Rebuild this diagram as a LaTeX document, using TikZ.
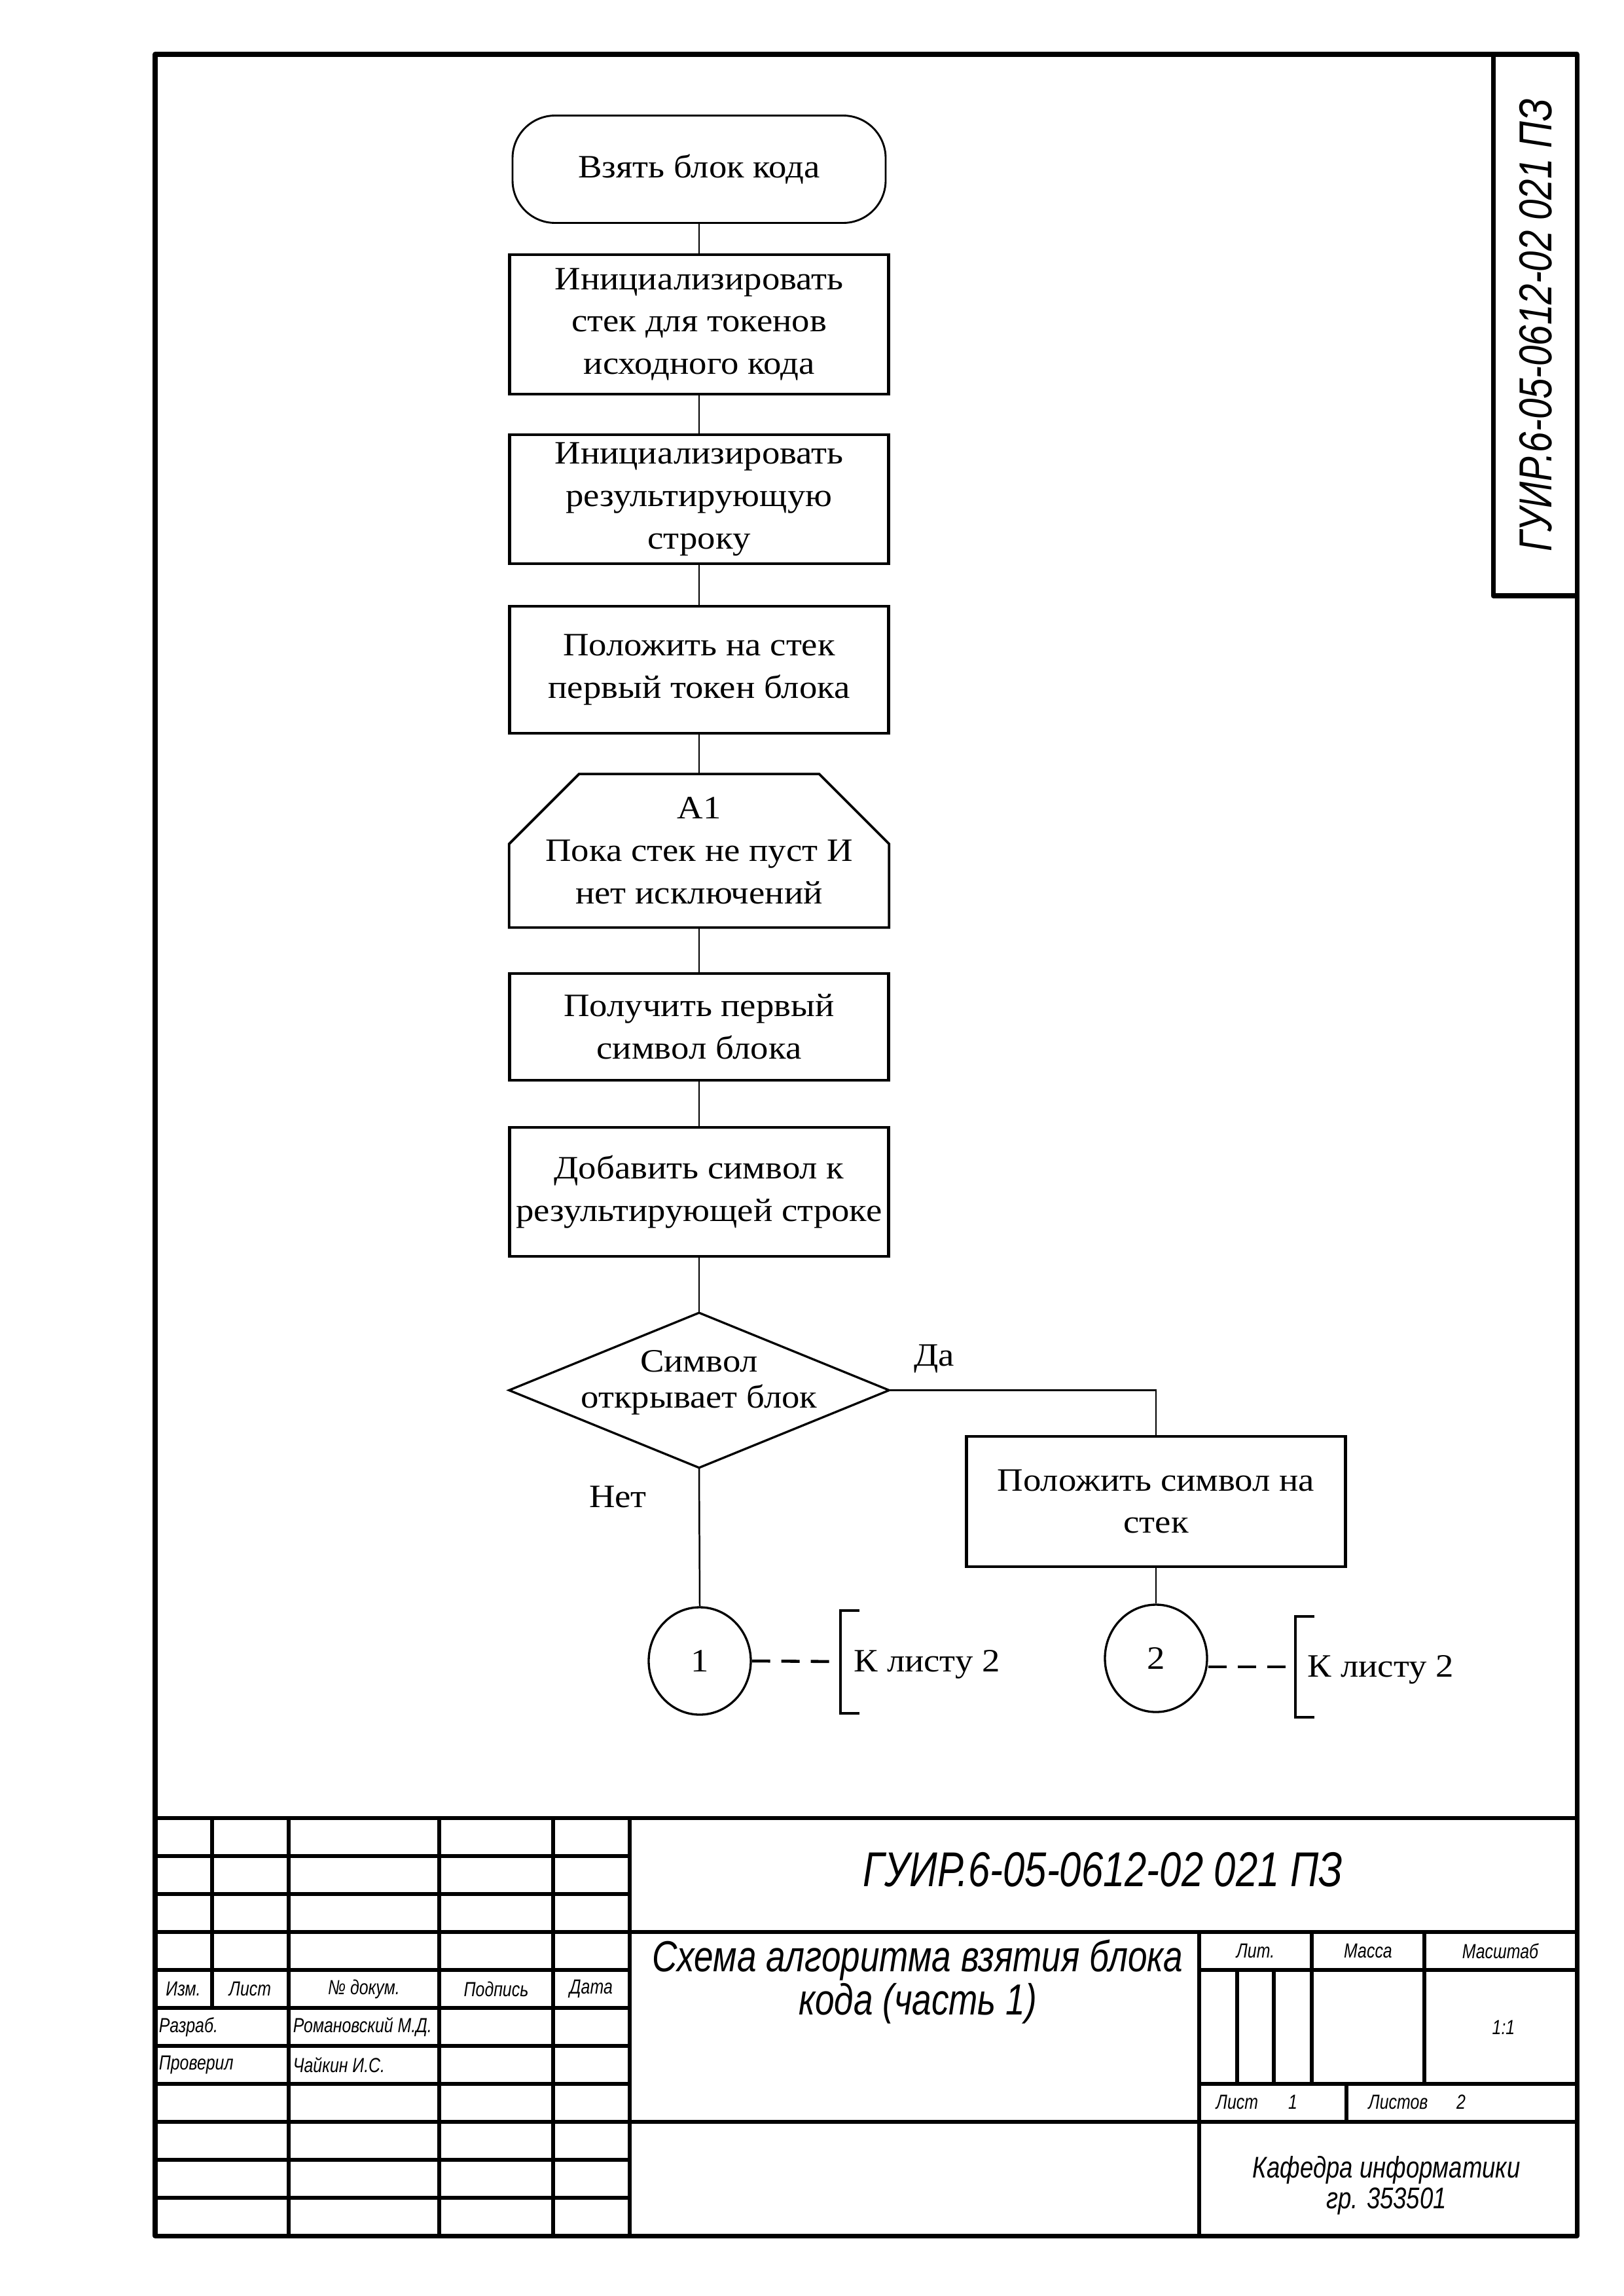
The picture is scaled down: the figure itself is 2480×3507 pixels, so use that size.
\documentclass[tikz,border=0pt]{standalone}
\usepackage{fontspec}
\setmainfont{Liberation Serif}[FakeStretch=1.1]
\newfontfamily\gostfont{Liberation Sans}[FakeStretch=0.8]
\usetikzlibrary{shapes.geometric,calc}
\newlength\pxu
\setlength\pxu{0.08468mm}
\newcommand\flfont{\fontsize{12}{15.6}\selectfont}
\newcommand\gst[2]{\gostfont\itshape\fontsize{#1}{#2}\selectfont}

\begin{document}
\begin{tikzpicture}[x=0.08468mm, y=-0.08468mm,
  frameln/.style={line width=1.7pt, line join=round},
  tb/.style={line width=1.5pt},
  link/.style={line width=0.6pt},
  term/.style={draw, line width=0.7pt, rounded corners=65\pxu, minimum width=570\pxu,
    minimum height=164\pxu, inner sep=0pt, align=center, font=\flfont},
  proc/.style={draw, line width=1pt, minimum width=579\pxu, inner sep=0pt,
    align=center, font=\flfont},
  plain/.style={minimum width=579\pxu, inner sep=0pt, align=center, font=\flfont},
  conn/.style={ellipse, draw, line width=0.8pt, minimum width=156\pxu,
    minimum height=164\pxu, inner sep=0pt, font=\flfont},
  brk/.style={line width=1.1pt},
  dashln/.style={line width=1.1pt, dash pattern=on 28\pxu off 17\pxu},
  lbl/.style={font=\flfont, inner sep=0pt},
  small/.style={font={\gst{7.5}{9}}, inner sep=0pt}
]
\useasboundingbox (0,0) rectangle (2480,3507);

% ---------- sheet frame and side stamp ----------
\draw[frameln] (237,83) rectangle (2409,3415);
\draw[frameln] (2281,83) -- (2281,910) -- (2409,910);
\node[rotate=90, font={\gst{17}{20}}, inner sep=0pt] (sidecode) at (2346,497)
  {ГУИР.6-05-0612-02 021 ПЗ};

% ---------- flowchart ----------
\node[term] (start) at (1068,258.5) {Взять блок кода};
\node[proc, minimum height=213\pxu] (b1) at (1068,495.5)
  {Инициализировать\\стек для токенов\\исходного кода};
\node[proc, minimum height=197\pxu] (b2) at (1068,762.5)
  {Инициализировать\\результирующую\\строку};
\node[proc, minimum height=194\pxu] (b3) at (1068,1023)
  {Положить на стек\\первый токен блока};
\node[plain, minimum height=233\pxu] (loop) at (1068,1299.5)
  {А1\\Пока стек не пуст И\\нет исключений};
\draw[line width=0.9pt] ($(loop.north west)+(107,0)$) -- ($(loop.north east)+(-107,0)$)
  -- ($(loop.north east)+(0,107)$) -- (loop.south east) -- (loop.south west)
  -- ($(loop.north west)+(0,107)$) -- cycle;
\node[proc, minimum height=163\pxu] (b4) at (1068,1568.5)
  {Получить первый\\символ блока};
\node[proc, minimum height=197\pxu] (b5) at (1068,1820.5)
  {Добавить символ к\\результирующей строке};
% decision: outline from a bare box, text set a little above its centre
\node[minimum width=579\pxu, minimum height=235\pxu, inner sep=0pt] (dec) at (1068,2123.5) {};
\draw[line width=0.8pt] (dec.north) -- (dec.east) -- (dec.south) -- (dec.west) -- cycle;
\node[align=center, inner sep=0pt, font={\fontsize{12}{13.2}\selectfont}] (dectxt) at (1068,2112)
  {Символ\\открывает блок};
\node[proc, minimum height=199\pxu] (b6) at (1766,2293.5)
  {Положить символ на\\стек};
\node[conn] (c1) at (1069,2537) {1};
\node[conn] (c2) at (1766,2533) {2};

\node[lbl] (yes) at (1427,2075) {Да};
\node[lbl] (no) at (944,2286) {Нет};

\draw[link] (start.south) -- (b1.north);
\draw[link] (b1.south) -- (b2.north);
\draw[link] (b2.south) -- (b3.north);
\draw[link] (b3.south) -- (loop.north);
\draw[link] (loop.south) -- (b4.north);
\draw[link] (b4.south) -- (b5.north);
\draw[link] (b5.south) -- (dec.north);
\draw[link] (dec.east) -| (b6.north);
\draw[link] (dec.south) -- (c1.north);
\draw[link] (b6.south) -- (c2.north);

% off-page comments
\coordinate (k1) at (1284,2538);
\coordinate (k2) at (1979,2546);
\draw[brk] (1313,2460) -- (1284,2460) -- (1284,2617) -- (1313,2617);
\draw[brk] (2008,2469) -- (1979,2469) -- (1979,2623) -- (2008,2623);
\draw[dashln] (c1.east) -- (k1);
\draw[dashln] (c2.east |- k2) -- (k2);
\node[lbl, anchor=base west] (note1) at (1304,2553) {К листу 2};
\node[lbl, anchor=base west] (note2) at (1997,2561) {К листу 2};

% ---------- title block ----------
\draw[tb] (237,2777) -- (2409,2777);
\foreach \yy in {2835,2893,2951,3009,3067,3125,3183,3241,3299,3357}
  \draw[tb] (237,\yy) -- (962,\yy);
\draw[tb] (962,2951) -- (2409,2951);
\draw[tb] (962,3241) -- (2409,3241);
\draw[tb] (1832,3009) -- (2409,3009);
\draw[tb] (1832,3183) -- (2409,3183);
\draw[tb] (324,2777) -- (324,3067);
\foreach \xx in {441,671,845,962}
  \draw[tb] (\xx,2777) -- (\xx,3415);
\draw[tb] (1832,2951) -- (1832,3415);
\foreach \xx in {2004,2176}
  \draw[tb] (\xx,2951) -- (\xx,3183);
\foreach \xx in {1890,1946}
  \draw[tb] (\xx,3009) -- (\xx,3183);
\draw[tb] (2057,3183) -- (2057,3241);

\node[small] (izm) at (280,3038) {Изм.};
\node[small] (list) at (382,3038) {Лист};
\node[small] (ndoc) at (556,3038) {№ докум.};
\node[small] (podp) at (758,3038) {Подпись};
\node[small] (data) at (903,3038) {Дата};
\node[small, anchor=west] (razr) at (242,3096) {Разраб.};
\node[small, anchor=west] (razrn) at (447,3096) {Романовский М.Д.};
\node[small, anchor=west] (prov) at (242,3154) {Проверил};
\node[small, anchor=west] (provn) at (447,3154) {Чайкин И.С.};

\node[font={\gst{18}{20}}, inner sep=0pt] (code) at (1685,2856)
  {ГУИР.6-05-0612-02 021 ПЗ};
\node[font={\gst{16}{16.1}}, align=center, inner sep=0pt] (title) at (1402,3027)
  {Схема алгоритма взятия блока\\кода (часть 1)};
\node[small] (lit) at (1918,2980) {Лит.};
\node[small] (mass) at (2090,2980) {Масса};
\node[small] (scale) at (2292,2980) {Масштаб};
\node[small] (scv) at (2297,3097) {1:1};
\node[small] (sh) at (1890,3211) {Лист};
\node[small] (shn) at (1975,3211) {1};
\node[small] (shs) at (2136,3211) {Листов};
\node[small] (shsn) at (2232,3211) {2};
\node[font={\gst{11}{11.4}}, align=center, inner sep=0pt] (dept) at (2118,3338)
  {Кафедра информатики\\гр. 353501};
\end{tikzpicture}
\end{document}
